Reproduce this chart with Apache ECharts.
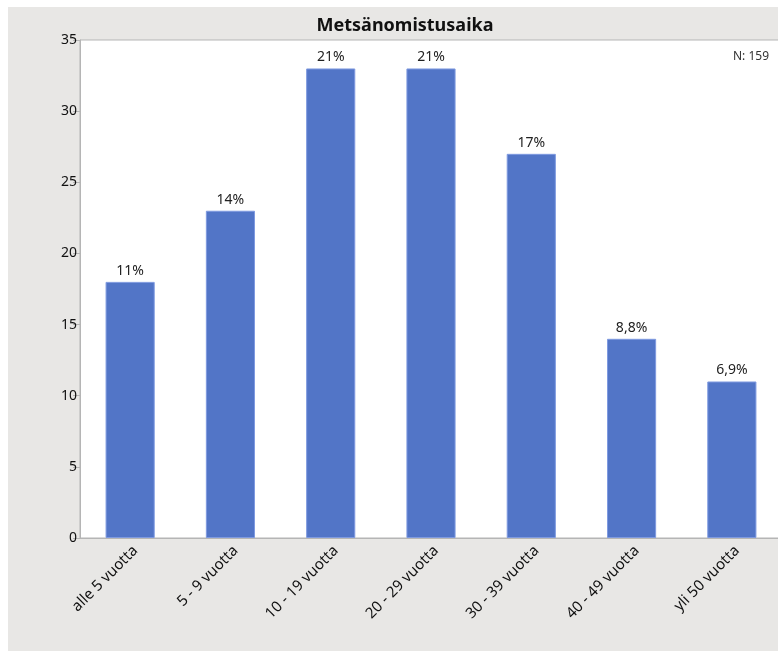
<!DOCTYPE html>
<html>
<head>
<meta charset="utf-8">
<script src="https://cdn.jsdelivr.net/npm/echarts@6/dist/echarts.min.js"></script>
<style>
    html, body { margin: 0; padding: 0; background: #ffffff; overflow: hidden; }
    #main { position: absolute; left: 8px; top: 7px; width: 800px; height: 644px; }
</style>
</head>
<body>
<div id="main"></div>
<script>
var categories = ['alle 5 vuotta', '5 - 9 vuotta', '10 - 19 vuotta', '20 - 29 vuotta', '30 - 39 vuotta', '40 - 49 vuotta', 'yli 50 vuotta'];
var counts = [18, 23, 33, 33, 27, 14, 11];
var percentLabels = ['11%', '14%', '21%', '21%', '17%', '8,8%', '6,9%'];
var yTicks = [0, 5, 10, 15, 20, 25, 30, 35];

var chart = echarts.init(document.getElementById('main'));
var option = {
    backgroundColor: '#e8e7e5',
    animation: false,
    textStyle: { fontFamily: 'Noto Sans' },
    title: {
        text: 'Metsänomistusaika',
        left: 392,
        top: 5,
        textAlign: 'center',
        textStyle: { fontSize: 18, fontWeight: 'bold', color: '#111', fontFamily: 'Noto Sans' }
    },
    graphic: [{
        type: 'text',
        left: 725,
        top: 44,
        style: { text: 'N: 159', fontSize: 12, fill: '#333', fontFamily: 'Noto Sans' }
    }],
    grid: {
        left: 72,
        top: 33,
        width: 702,
        height: 498,
        show: true,
        backgroundColor: '#ffffff',
        borderColor: '#b5b5b5',
        borderWidth: 1
    },
    xAxis: {
        type: 'category',
        data: categories,
        axisLine: { lineStyle: { color: '#b5b5b5' } },
        axisTick: { show: false },
        axisLabel: { rotate: 45, fontSize: 15, color: '#111', margin: 5, interval: 0, verticalAlign: 'top' }
    },
    yAxis: {
        type: 'value',
        min: yTicks[0],
        max: yTicks[yTicks.length - 1],
        interval: 5,
        axisLine: { show: true, lineStyle: { color: '#b5b5b5' } },
        axisTick: { show: true, length: 7, lineStyle: { color: '#b5b5b5' } },
        splitLine: { show: false },
        axisLabel: { fontSize: 14, color: '#111', margin: 3 }
    },
    series: [{
        type: 'bar',
        data: counts,
        barWidth: '49%',
        itemStyle: { color: '#5275c7', borderColor: '#7f9ae0', borderWidth: 1 },
        label: {
            show: true,
            position: 'top',
            distance: 4,
            fontSize: 14,
            color: '#222',
            formatter: function (p) { return percentLabels[p.dataIndex]; }
        }
    }]
};
chart.setOption(option);
</script>
</body>
</html>
